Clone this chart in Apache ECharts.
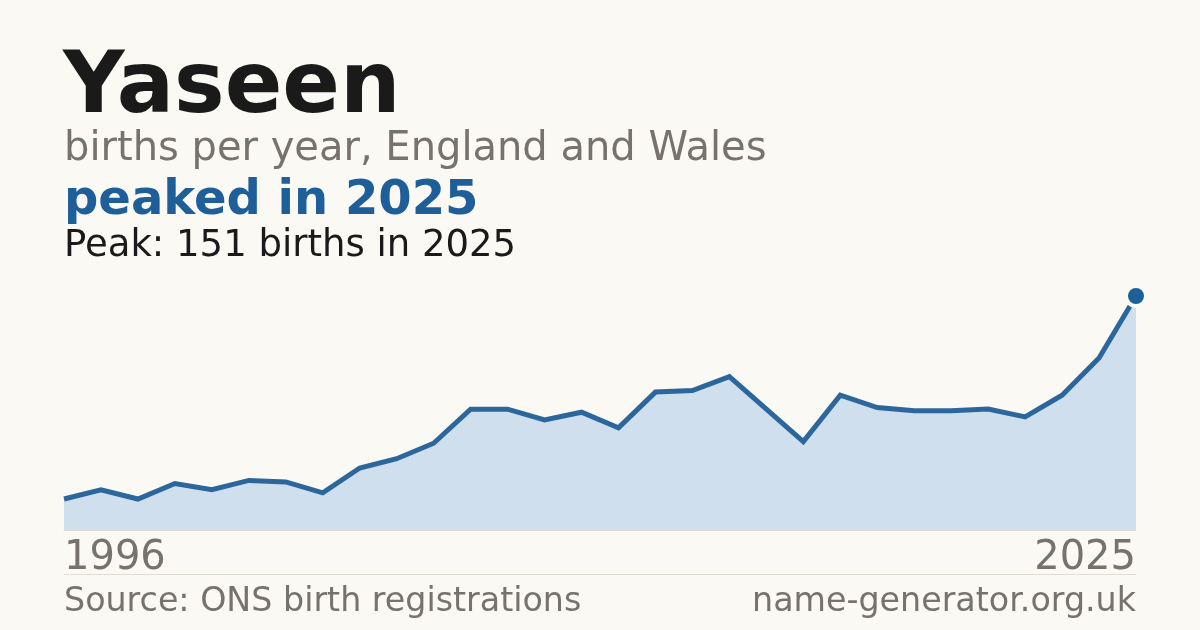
<!DOCTYPE html>
<html>
<head>
<meta charset="utf-8">
<script src="https://cdn.jsdelivr.net/npm/echarts@6/dist/echarts.min.js"></script>
<style>
  html, body { margin: 0; padding: 0; background: #faf9f4; }
  #chart { width: 1200px; height: 630px; }
</style>
</head>
<body>
<div id="chart"></div>
<script>
const years = ['1996','1997','1998','1999','2000','2001','2002','2003','2004','2005',
               '2006','2007','2008','2009','2010','2011','2012','2013','2014','2015',
               '2016','2017','2018','2019','2020','2021','2022','2023','2024','2025'];
const births = [20, 26, 20, 30, 26, 32, 31, 24, 40, 46,
                56, 78, 78, 71, 76, 66, 89, 90, 99, 78,
                57, 87, 79, 77, 77, 78, 73, 87, 111, 151];
const titleText = 'Yaseen';
const subtitleText = 'births per year, England and Wales';
const headlineText = 'peaked in 2025';
const peakText = 'Peak: 151 births in 2025';
const sourceText = 'Source: ONS birth registrations';
const siteText = 'name-generator.org.uk';

const FONT = '"DejaVu Sans", Verdana, sans-serif';
const BG = '#faf9f4';
const GREY = '#77736c';
const BLUE = '#1f5f99';
const lastIdx = births.length - 1;
const peak = Math.max(...births);

const chart = echarts.init(document.getElementById('chart'), null, { renderer: 'canvas' });
chart.setOption({
  backgroundColor: BG,
  animation: false,
  grid: { left: 64, right: 64, top: 296, bottom: 100, containLabel: false },
  xAxis: {
    type: 'category',
    data: years,
    boundaryGap: false,
    axisLine: { show: true, lineStyle: { color: '#e2ddd3', width: 1 } },
    axisTick: { show: false },
    splitLine: { show: false },
    axisLabel: {
      interval: (i) => i === 0 || i === lastIdx,
      color: GREY,
      fontFamily: FONT,
      fontSize: 40,
      margin: 29,
      verticalAlign: 'middle',
      alignMinLabel: 'left',
      alignMaxLabel: 'right'
    }
  },
  yAxis: {
    type: 'value',
    min: 0,
    max: peak,
    show: false,
    splitLine: { show: false }
  },
  series: [{
    type: 'line',
    data: births,
    showSymbol: true,
    symbol: (v, p) => p.dataIndex === lastIdx ? 'circle' : 'none',
    symbolSize: (v, p) => p.dataIndex === lastIdx ? 20 : 0,
    itemStyle: { color: BLUE, borderColor: BG, borderWidth: 4 },
    lineStyle: { color: '#2b669d', width: 5, join: 'miter' },
    areaStyle: { color: '#cfdfee', opacity: 1 },
    z: 3
  }],
  graphic: [
    { type: 'text', x: 63, y: 90, style: { text: titleText, fill: '#1a1a1a', font: 'bold 85px ' + FONT, verticalAlign: 'middle' } },
    { type: 'text', x: 64, y: 150, style: { text: subtitleText, fill: GREY, font: '40px ' + FONT, verticalAlign: 'middle' } },
    { type: 'text', x: 64, y: 202, style: { text: headlineText, fill: BLUE, font: 'bold 48px ' + FONT, verticalAlign: 'middle' } },
    { type: 'text', x: 64, y: 246, style: { text: peakText, fill: '#1a1a1a', font: '37px ' + FONT, verticalAlign: 'middle' } },
    { type: 'line', shape: { x1: 64, y1: 574.5, x2: 1136, y2: 574.5 }, style: { stroke: '#e2ddd3', lineWidth: 1 } },
    { type: 'text', x: 64, y: 602, style: { text: sourceText, fill: GREY, font: '33.3px ' + FONT, verticalAlign: 'middle' } },
    { type: 'text', x: 1136, y: 602, style: { text: siteText, fill: GREY, font: '33.3px ' + FONT, verticalAlign: 'middle', align: 'right' } }
  ]
});
</script>
</body>
</html>
